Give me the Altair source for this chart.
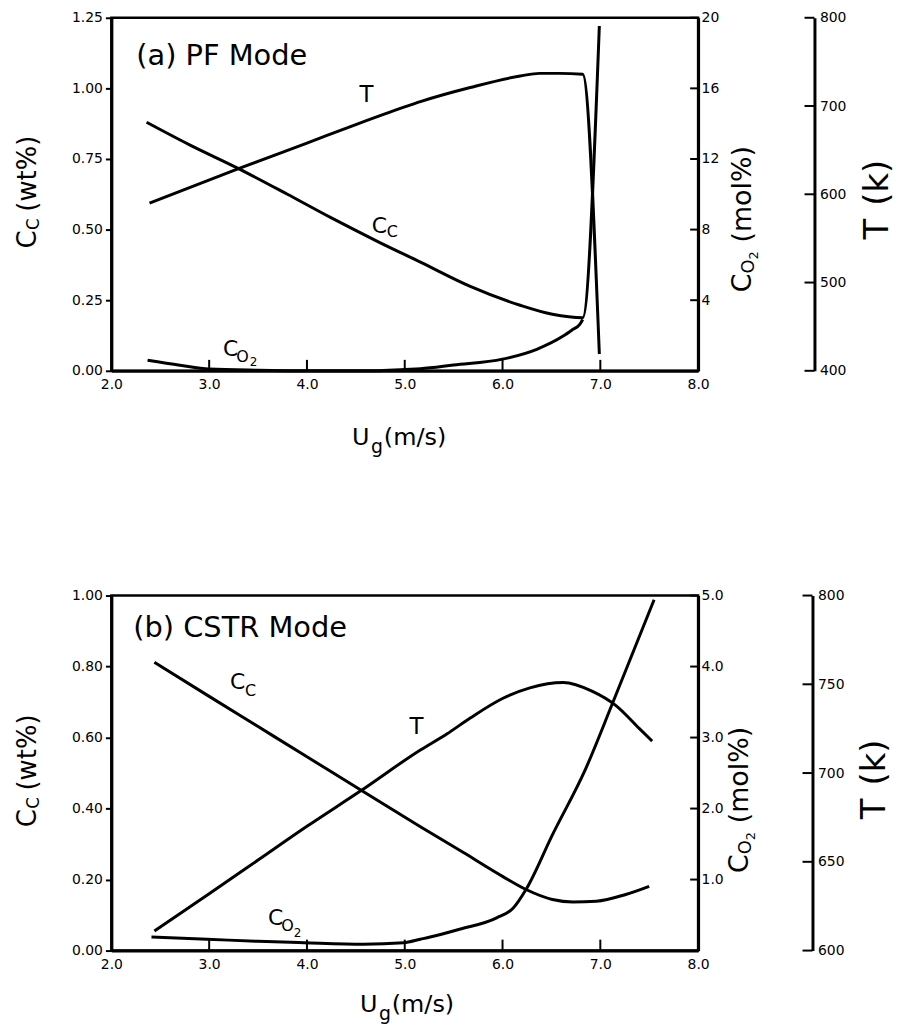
import altair as alt
import pandas as pd

FONT = "DejaVu Sans"

# ---------------- (a) PF mode ----------------
pf_cc_u = [2.36, 2.80, 3.30, 3.80, 4.24, 4.74, 5.16, 5.67, 6.18, 6.51, 6.82, 6.99]
pf_cc = [0.880, 0.800, 0.716, 0.625, 0.543, 0.455, 0.385, 0.299, 0.232, 0.200, 0.188, 1.221]
pf_t_u = [2.39, 3.30, 4.00, 4.50, 5.00, 5.16, 5.67, 6.18, 6.38, 6.58, 6.82, 6.99]
pf_t = [590, 629, 658, 679, 699, 705, 721, 734, 737, 737, 736, 419]
pf_co2_u = [2.37, 2.70, 3.00, 3.50, 4.00, 4.70, 5.00, 5.16, 5.50, 6.00, 6.35, 6.62, 6.72, 6.79, 6.82]
pf_co2 = [0.60, 0.32, 0.10, 0.03, 0.00, 0.00, 0.08, 0.12, 0.33, 0.66, 1.22, 1.97, 2.35, 2.63, 2.91]

# ---------------- (b) CSTR mode ----------------
cs_cc_u = [2.44, 3.00, 3.50, 4.00, 4.55, 5.16, 5.60, 6.00, 6.24, 6.51, 6.72, 6.96, 7.26, 7.50]
cs_cc = [0.812, 0.716, 0.631, 0.546, 0.452, 0.349, 0.276, 0.209, 0.172, 0.144, 0.137, 0.139, 0.158, 0.181]
cs_t_u = [2.44, 3.00, 3.50, 4.00, 4.55, 5.16, 5.43, 5.67, 6.00, 6.28, 6.62, 6.92, 7.16, 7.40, 7.53]
cs_t = [611, 632, 651, 670, 690, 713, 722, 731, 742, 748, 751, 746, 738, 725, 718]
cs_co2_u = [2.41, 2.98, 3.50, 3.97, 4.58, 4.99, 5.16, 5.26, 5.56, 5.94, 6.11, 6.24, 6.51, 6.85, 7.13, 7.55]
cs_co2 = [0.19, 0.16, 0.13, 0.11, 0.09, 0.11, 0.16, 0.19, 0.30, 0.46, 0.60, 0.86, 1.63, 2.56, 3.50, 4.94]

# ---------------- ticks ----------------
x_ticks = [2, 3, 4, 5, 6, 7, 8]
x_inner_ticks = [3, 4, 5, 6, 7]
pf_cc_ticks = [0, 0.25, 0.5, 0.75, 1.0, 1.25]
pf_co2_ticks = [4, 8, 12, 16, 20]
pf_t_ticks = [400, 500, 600, 700, 800]
cs_cc_ticks = [0, 0.2, 0.4, 0.6, 0.8, 1.0]
cs_co2_ticks = [1, 2, 3, 4, 5]
cs_t_ticks = [600, 650, 700, 750, 800]

# curve label anchors (U_g, C_C-scale value)
pf_lbl_T = (4.61, 0.975)
pf_lbl_Cc = (4.74, 0.514)
pf_lbl_CO2 = (3.22, 0.078)
cs_lbl_T = (5.12, 0.629)
cs_lbl_Cc = (3.29, 0.756)
cs_lbl_CO2 = (3.68, 0.092)

W = 590
one = pd.DataFrame({"k": [0]})


def ptext(s, x, y, size, dx=0, dy=0, angle=0, align="left", baseline="alphabetic"):
    return alt.Chart(one).mark_text(
        text=s, font=FONT, fontSize=size, dx=dx, dy=dy, angle=angle,
        align=align, baseline=baseline, color="black"
    ).encode(x=alt.value(x), y=alt.value(y))


def make_panel(H, cc_u, cc, t_u, t, co2_u, co2, cc_dom, cc_ticks, cc_fmt,
               co2_dom, co2_ticks, co2_fmt, t_dom, t_ticks, t_off,
               lbl_T, lbl_Cc, lbl_CO2, cc_sub, co2_sub, title, title_xy,
               xt_xy, lt_c, rt_c, tt_c):
    xs = alt.Scale(domain=[2, 8], nice=False, zero=False)
    xa = alt.Axis(values=x_ticks, format=".1f", ticks=False, labelFlush=False,
                  labelPadding=7, title=None, domainWidth=3, labelOverlap=False)
    ccs = alt.Scale(domain=cc_dom, nice=False, zero=False)
    cca = alt.Axis(orient="left", values=cc_ticks, format=cc_fmt, tickSize=6,
                   tickWidth=2, labelPadding=3, title=None, domainWidth=3,
                   labelFlush=False, labelOverlap=False)
    cos = alt.Scale(domain=co2_dom, nice=False, zero=False)
    coa = alt.Axis(orient="right", values=co2_ticks, format=co2_fmt, ticks=False,
                   labelPadding=3, title=None, domainWidth=3, labelFlush=False,
                   labelOverlap=False)
    ts = alt.Scale(domain=t_dom, nice=False, zero=False)
    ta = alt.Axis(orient="right", offset=t_off, values=t_ticks, format="d",
                  ticks=False, labelPadding=5, title=None, domainWidth=3,
                  labelFlush=False, labelOverlap=False)

    X = alt.X("u:Q", scale=xs, axis=xa)

    def line(us, vs, sc, ax):
        df = pd.DataFrame({"u": us, "v": vs})
        return alt.Chart(df).mark_line(
            color="black", strokeWidth=3, interpolate="monotone"
        ).encode(x=X, y=alt.Y("v:Q", scale=sc, axis=ax))

    def dtext(s, pos, size, dx=0, dy=0):
        df = pd.DataFrame({"u": [pos[0]], "v": [pos[1]]})
        return alt.Chart(df).mark_text(
            text=s, font=FONT, fontSize=size, dx=dx, dy=dy, align="center",
            baseline="middle", color="black"
        ).encode(x=X, y=alt.Y("v:Q", scale=ccs, axis=cca))

    xtick_rule = alt.Chart(pd.DataFrame({"u": x_inner_ticks})).mark_rule(
        color="black", strokeWidth=2).encode(x=X, y=alt.value(H), y2=alt.value(H - 11))

    # rotated axis titles (text reads upward; dx along text, dy = subscript shift)
    lx, ly = lt_c
    left_title = [
        ptext("C", lx, ly, 26, angle=270, baseline="middle"),
        ptext("C", lx, ly, 17, dx=18.5, dy=6, angle=270, baseline="middle"),
        ptext("(wt%)", lx, ly, 26, dx=37, angle=270, baseline="middle"),
    ]
    rx, ry = rt_c
    right_title = [
        ptext("C", rx, ry, 27, angle=270, baseline="middle"),
        ptext("O", rx, ry, 18, dx=18.8, dy=6, angle=270, baseline="middle"),
        ptext("2", rx, ry, 13, dx=33, dy=11, angle=270, baseline="middle"),
        ptext("(mol%)", rx, ry, 27, dx=50, angle=270, baseline="middle"),
    ]
    tx, ty = tt_c
    t_title = [
        ptext("T", tx, ty, 34, angle=270, baseline="middle"),
        ptext("(k)", tx, ty, 34, dx=34, angle=270, baseline="middle"),
    ]
    ux, uy = xt_xy
    x_title = [
        ptext("U", ux, uy, 24),
        ptext("g", ux, uy, 19, dx=19, dy=8),
        ptext("(m/s)", ux, uy, 24, dx=32),
    ]
    panel_title = ptext(title, title_xy[0], title_xy[1], 29)

    cdx, cdy = cc_sub
    labels = [
        dtext("T", lbl_T, 23),
        dtext("C", lbl_Cc, 22),
        dtext("C", lbl_Cc, 16, dx=cdx, dy=cdy),
        dtext("C", lbl_CO2, 22),
        dtext("O", lbl_CO2, 16, dx=co2_sub[0], dy=co2_sub[1]),
        dtext("2", lbl_CO2, 12, dx=co2_sub[2], dy=co2_sub[3]),
    ]

    cc_layer = alt.layer(line(cc_u, cc, ccs, cca), xtick_rule, *labels,
                         panel_title, *x_title, *left_title, *right_title, *t_title)

    co2_tick_rule = alt.Chart(pd.DataFrame({"v": co2_ticks})).mark_rule(
        color="black", strokeWidth=2).encode(
        y=alt.Y("v:Q", scale=cos, axis=coa), x=alt.value(W - 8), x2=alt.value(W))
    co2_layer = alt.layer(line(co2_u, co2, cos, coa), co2_tick_rule)

    t_tick_rule = alt.Chart(pd.DataFrame({"v": t_ticks})).mark_rule(
        color="black", strokeWidth=2).encode(
        y=alt.Y("v:Q", scale=ts, axis=ta), x=alt.value(W + t_off - 10),
        x2=alt.value(W + t_off))
    t_layer = alt.layer(line(t_u, t, ts, ta), t_tick_rule)

    return alt.layer(cc_layer, co2_layer, t_layer).resolve_scale(
        y="independent").properties(width=W, height=H)


pa = make_panel(
    355, pf_cc_u, pf_cc, pf_t_u, pf_t, pf_co2_u, pf_co2,
    [0, 1.25], pf_cc_ticks, ".2f", [0, 20], pf_co2_ticks, "d",
    [400, 800], pf_t_ticks, 117,
    pf_lbl_T, pf_lbl_Cc, pf_lbl_CO2, (13, 6), (12, 8, 23, 13),
    "(a) PF Mode", (25, 47), (242, 430), (-84, 232), (635, 276), (771, 223))

pb = make_panel(
    357, cs_cc_u, cs_cc, cs_t_u, cs_t, cs_co2_u, cs_co2,
    [0, 1.0], cs_cc_ticks, ".2f", [0, 5], cs_co2_ticks, ".1f",
    [600, 800], cs_t_ticks, 115,
    cs_lbl_T, cs_lbl_Cc, cs_lbl_CO2, (13, 9), (12, 8, 22, 15),
    "(b) CSTR Mode", (22, 42), (250, 419), (-84, 233), (632, 279), (768, 225))

chart = alt.vconcat(pa, pb, spacing=226, bounds="flush").properties(
    padding={"left": 13, "top": 6, "right": 0, "bottom": 0}
).configure_view(stroke="black", strokeWidth=2.5).configure_axis(
    domainColor="black", labelColor="black", tickColor="black",
    labelFont=FONT, labelFontSize=14, grid=False
)

chart.save("out.html", embed_options={"renderer": "svg", "actions": False})
